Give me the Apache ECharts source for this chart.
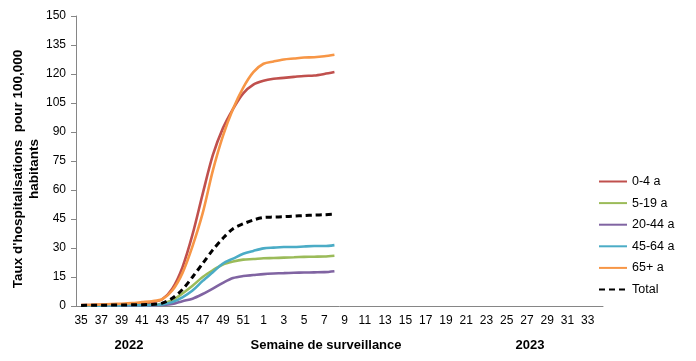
<!DOCTYPE html>
<html><head><meta charset="utf-8">
<script src="https://cdn.jsdelivr.net/npm/echarts@6/dist/echarts.min.js"></script>
<style>html,body{margin:0;padding:0;background:#fff}#c{width:696px;height:361px}</style>
</head><body><div id="c"></div>
<script>
const weeks = ['35','36','37','38','39','40','41','42','43','44','45','46','47','48','49','50','51','52',
  '1','2','3','4','5','6','7','8','9','10','11','12','13','14','15','16','17','18','19','20','21','22','23','24','25','26','27','28','29','30','31','32','33','34'];
const s0_4   = [0.5,0.5,0.6,0.7,0.8,1.0,1.5,2.0,3.5,9,20,37,58,78,92,102,110,114.5,116.5,117.5,118,118.5,119,119.2,120,121];
const s5_19  = [0.3,0.3,0.3,0.4,0.4,0.5,0.5,0.6,1.2,3,6.5,10.5,15,18.5,21.5,23,24,24.3,24.7,24.8,25,25.2,25.4,25.5,25.6,26];
const s20_44 = [0.1,0.1,0.1,0.2,0.2,0.2,0.3,0.3,0.5,1,2.5,3.8,6.2,9,12,14.5,15.5,16,16.5,16.8,17,17.2,17.3,17.4,17.5,18];
const s45_64 = [0.2,0.2,0.2,0.3,0.3,0.4,0.4,0.5,0.8,2,4.5,8,13,17.5,22,24.5,27,28.5,29.8,30.2,30.5,30.5,30.8,31,31,31.5];
const s65    = [0.5,0.6,0.8,1.0,1.2,1.5,2.0,2.5,3.5,8,17,31,48,70,88,102,113,121,125.3,126.5,127.5,128,128.5,128.7,129.2,130];
const sTotal = [0.3,0.4,0.4,0.5,0.5,0.6,0.7,0.8,1.5,4,8.5,15,22,29,35,40,42.5,44.5,45.8,46,46.2,46.5,46.8,47,47.2,47.5];
const yTicks = [0,15,30,45,60,75,90,105,120,135,150];

const chart = echarts.init(document.getElementById('c'));
const font = 'Liberation Sans, Arial, sans-serif';
function line(name, data, color, dashed) {
  return {name, type:'line', data, smooth:0.3, symbol:'none', showSymbol:false,
    lineStyle:{color, width: dashed?3:2.6, type: dashed?[6,4]:'solid'}, itemStyle:{color}};
}
chart.setOption({
  animation:false,
  textStyle:{fontFamily:font},
  grid:{left:76, right:93, top:16, bottom:55, containLabel:false},
  xAxis:{type:'category', data:weeks, boundaryGap:true,
    axisLine:{lineStyle:{color:'#868686', width:1}},
    axisTick:{interval:0, length:5, lineStyle:{color:'#868686'}},
    axisLabel:{interval:1, color:'#000', fontSize:12, margin:9, fontFamily:font}},
  yAxis:{type:'value', min:0, max:150, interval:15,
    splitLine:{show:false},
    axisLine:{show:true, lineStyle:{color:'#868686'}},
    axisTick:{show:true, length:5, inside:false, lineStyle:{color:'#868686'}},
    axisLabel:{color:'#000', fontSize:12, margin:10, fontFamily:font,
      formatter: v => yTicks.includes(v) ? String(v) : ''}},
  legend:{orient:'vertical', left:598, top:175, padding:0, itemWidth:28, itemHeight:14, itemGap:8.6,
    itemStyle:{opacity:0},
    textStyle:{fontSize:12.5, color:'#000', fontFamily:font},
    data:['0-4 a','5-19 a','20-44 a','45-64 a','65+ a','Total']},
  graphic:[
    {type:'text', x:26, y:169, rotation:Math.PI/2,
      style:{text:"Taux d'hospitalisations  pour 100,000\nhabitants", align:'center', verticalAlign:'middle',
        font:'bold 13.5px '+font, fill:'#000', lineHeight:16}},
    {type:'text', x:326, y:345, style:{text:'Semaine de surveillance', align:'center', verticalAlign:'middle', font:'bold 13px '+font, fill:'#000'}},
    {type:'text', x:129, y:345, style:{text:'2022', align:'center', verticalAlign:'middle', font:'bold 13px '+font, fill:'#000'}},
    {type:'text', x:530, y:345, style:{text:'2023', align:'center', verticalAlign:'middle', font:'bold 13px '+font, fill:'#000'}}
  ],
  series:[
    line('0-4 a', s0_4, '#C0504D'),
    line('5-19 a', s5_19, '#9BBB59'),
    line('20-44 a', s20_44, '#8064A2'),
    line('45-64 a', s45_64, '#4BACC6'),
    line('65+ a', s65, '#F79646'),
    line('Total', sTotal, '#000000', true)
  ]
});
</script></body></html>
